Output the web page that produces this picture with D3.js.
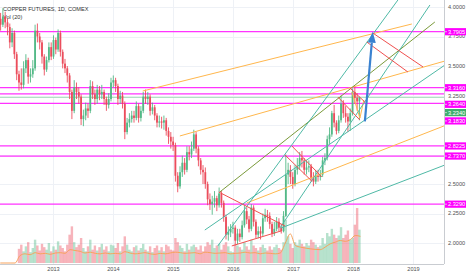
<!DOCTYPE html>
<html>
<head>
<meta charset="utf-8">
<script src="https://cdn.jsdelivr.net/npm/d3@7"></script>
<style>
  html, body { margin: 0; padding: 0; background: #fff; }
  svg { display: block; font-family: "Liberation Sans", Arial, sans-serif; }
</style>
</head>
<body>
<script>
/* global d3 */

// ---- data ----
let TITLE = 'COPPER FUTURES, 1D, COMEX'
let VOL_LABEL = 'Vol (20)'
let FIRST_BAR = '2012-02-03'   // bars are two weeks apart

let closes = [
  3.90, 3.85, 3.92, 3.87, 3.83, 3.70, 3.78, 3.60, 3.43, 3.36, 3.34, 3.48, 3.55, 3.41, 3.43, 3.48, 3.80, 3.75, 3.70, 3.58, 3.47, 3.55, 3.66, 3.58,
  3.72, 3.64, 3.78, 3.62, 3.52, 3.48, 3.42, 3.28, 3.12, 3.32, 3.28, 3.24, 3.05, 3.08, 3.14, 3.12, 3.33, 3.26, 3.22, 3.30, 3.26, 3.28, 3.22, 3.17, 3.22, 3.36,
  3.38, 3.33, 3.22, 3.25, 3.18, 2.94, 3.02, 3.05, 3.08, 3.06, 3.16, 3.06, 3.12, 3.24, 3.22, 3.24, 3.12, 3.15, 3.08, 3.02, 3.03, 3.02, 3.04, 2.95, 2.90, 2.86,
  2.83, 2.57, 2.48, 2.60, 2.68, 2.62, 2.77, 2.75, 2.80, 2.92, 2.80, 2.70, 2.62, 2.60, 2.50, 2.37, 2.33, 2.35, 2.38, 2.32, 2.42, 2.34, 2.22, 2.07, 2.09, 2.12,
  2.13, 2.02, 2.08, 2.05, 2.15, 2.27, 2.20, 2.12, 2.30, 2.18, 2.07, 2.10, 2.08, 2.21, 2.24, 2.23, 2.16, 2.08, 2.12, 2.18, 2.13, 2.10, 2.23, 2.58, 2.62, 2.56,
  2.50, 2.62, 2.65, 2.72, 2.70, 2.62, 2.64, 2.65, 2.55, 2.52, 2.57, 2.56, 2.58, 2.70, 2.72, 2.88, 2.92, 3.10, 3.02, 2.95, 3.04, 3.18, 3.10, 3.07, 3.03, 3.10, 3.28,
  3.23, 3.20, 3.234
]
let highs = [
  3.97, 3.95, 3.99, 3.96, 3.90, 3.86, 3.82, 3.80, 3.62, 3.46, 3.48, 3.54, 3.60, 3.57, 3.48, 3.55, 3.85, 3.86, 3.78, 3.72, 3.60, 3.58, 3.70, 3.70,
  3.76, 3.74, 3.81, 3.80, 3.64, 3.56, 3.50, 3.44, 3.30, 3.38, 3.36, 3.32, 3.26, 3.13, 3.19, 3.18, 3.38, 3.37, 3.30, 3.34, 3.33, 3.34, 3.30, 3.24, 3.27, 3.40,
  3.42, 3.40, 3.35, 3.29, 3.28, 3.20, 3.06, 3.10, 3.12, 3.12, 3.20, 3.18, 3.16, 3.28, 3.30, 3.28, 3.26, 3.19, 3.17, 3.10, 3.08, 3.07, 3.08, 3.06, 2.98, 2.94,
  2.90, 2.85, 2.60, 2.65, 2.74, 2.72, 2.82, 2.82, 2.86, 2.96, 2.94, 2.82, 2.72, 2.66, 2.64, 2.52, 2.42, 2.40, 2.44, 2.40, 2.47, 2.44, 2.36, 2.24, 2.14, 2.16,
  2.18, 2.15, 2.12, 2.12, 2.19, 2.32, 2.30, 2.23, 2.33, 2.32, 2.20, 2.14, 2.14, 2.25, 2.29, 2.28, 2.26, 2.18, 2.18, 2.22, 2.21, 2.16, 2.27, 2.75, 2.68, 2.66,
  2.60, 2.66, 2.72, 2.77, 2.78, 2.72, 2.70, 2.70, 2.67, 2.60, 2.62, 2.62, 2.62, 2.73, 2.76, 2.91, 2.98, 3.12, 3.17, 3.04, 3.08, 3.25, 3.21, 3.16, 3.10, 3.14, 3.31,
  3.33, 3.27, 3.24
]
let lows = [
  3.82, 3.80, 3.83, 3.82, 3.76, 3.65, 3.66, 3.56, 3.38, 3.29, 3.30, 3.31, 3.44, 3.35, 3.36, 3.40, 3.46, 3.70, 3.64, 3.52, 3.42, 3.45, 3.53, 3.55,
  3.56, 3.60, 3.62, 3.58, 3.48, 3.44, 3.36, 3.22, 3.05, 3.10, 3.22, 3.18, 3.00, 2.99, 3.04, 3.06, 3.10, 3.22, 3.17, 3.18, 3.21, 3.22, 3.17, 3.12, 3.14, 3.20,
  3.32, 3.28, 3.17, 3.18, 3.14, 2.88, 2.92, 2.98, 3.02, 3.02, 3.04, 3.02, 3.03, 3.10, 3.18, 3.17, 3.08, 3.09, 3.04, 2.98, 2.98, 2.97, 2.96, 2.91, 2.84, 2.80,
  2.78, 2.52, 2.43, 2.46, 2.56, 2.58, 2.60, 2.70, 2.72, 2.78, 2.76, 2.65, 2.58, 2.50, 2.46, 2.32, 2.28, 2.24, 2.30, 2.27, 2.30, 2.30, 2.18, 2.03, 2.02, 2.05,
  2.08, 1.98, 1.99, 2.01, 2.03, 2.13, 2.16, 2.09, 2.10, 2.14, 2.04, 2.04, 2.03, 2.06, 2.18, 2.18, 2.12, 2.05, 2.06, 2.10, 2.10, 2.08, 2.09, 2.22, 2.50, 2.50,
  2.46, 2.48, 2.58, 2.62, 2.64, 2.58, 2.58, 2.60, 2.52, 2.48, 2.50, 2.52, 2.53, 2.56, 2.66, 2.70, 2.84, 2.90, 2.98, 2.92, 2.93, 3.02, 3.06, 3.02, 2.94, 2.95, 3.08,
  3.18, 3.12, 3.04
]
let volumes = [
  0, 0, 0, 0, 0, 0, 0, 0, 0, 85, 110, 70, 100, 125, 65, 90, 140, 105, 75, 115, 95, 80, 120, 70,
  100, 80, 130, 105, 90, 70, 110, 170, 220, 125, 95, 110, 150, 90, 70, 100, 140, 80, 105, 75, 95, 115, 80, 100, 70, 110,
  105, 90, 120, 70, 100, 160, 110, 80, 70, 95, 105, 75, 90, 115, 80, 70, 100, 65, 90, 105, 75, 95, 70, 110, 100, 80,
  75, 150, 125, 105, 90, 70, 115, 80, 100, 110, 95, 80, 105, 70, 100, 125, 110, 140, 90, 105, 115, 80, 110, 125, 100, 70,
  65, 110, 105, 95, 80, 125, 100, 80, 140, 105, 90, 75, 95, 110, 90, 75, 100, 80, 95, 110, 90, 80, 125, 260, 160, 115,
  90, 125, 110, 140, 115, 100, 120, 105, 140, 125, 110, 95, 105, 150, 115, 180, 160, 205, 170, 150, 165, 215, 150, 170, 195, 140, 150,
  230, 330, 200
]
// Vol MA(20), one value per month from Feb 2012
let FIRST_MA_MONTH = '2012-02-15'
let volumeMA = [
  0, 0, 0, 0, 45, 55, 50, 62, 55, 58, 52,
  60, 62, 58, 80, 75, 70, 60, 65, 58, 55, 60, 55,
  58, 55, 68, 60, 55, 58, 62, 55, 52, 58, 55, 60,
  65, 62, 58, 60, 62, 55, 65, 62, 58, 60, 62, 55,
  58, 60, 65, 60, 62, 55, 60, 58, 55, 60, 120, 175,
  105, 95, 90, 85, 82, 80, 95, 115, 125, 135, 130, 140,
  165, 160
]

// horizontal levels and the last price
let levels = [3.7905, 3.3160, 3.2640, 3.1830, 2.8225, 2.7370, 2.3290]
let lastPrice = 3.2340
let priceTicks = [2.0, 2.25, 2.5, 2.75, 3.0, 3.25, 3.5, 3.75, 4.0]
let shownTickLabels = [2.0, 2.25, 2.5, 3.25, 3.5, 4.0]
let coveredTickLabels = [3.75]

// drawn trend lines: [[date, price], [date, price]]
let orangeLines = [
  [['2014-07-01', 3.288], ['2018-12-25', 3.856]],
  [['2015-02-12', 2.907], ['2019-07-14', 3.542]],
  [['2016-03-25', 2.339], ['2019-07-14', 2.995]],
  [['2017-12-25', 3.280], ['2018-02-12', 3.059]],
  [['2018-02-12', 3.059], ['2018-03-08', 3.212]]
]
let oliveLines = [
  [['2015-10-13', 2.432], ['2019-05-14', 3.873]]
]
let tealLines = [
  [['2015-10-01', 1.975], ['2018-10-01', 4.059]],
  [['2016-10-13', 2.127], ['2019-04-14', 4.017]],
  [['2015-07-14', 2.110], ['2019-07-14', 3.508]],
  [['2016-10-20', 2.127], ['2019-07-14', 2.661]]
]
let redLines = [
  [['2015-10-07', 2.432], ['2016-11-13', 2.144]],
  [['2015-12-25', 1.975], ['2016-10-20', 2.102]],
  [['2016-11-13', 2.746], ['2017-04-25', 2.525]],
  [['2016-12-25', 2.822], ['2017-06-25', 2.559]],
  [['2017-10-01', 3.237], ['2018-02-12', 3.042]],
  [['2017-12-13', 3.314], ['2018-03-14', 3.195]],
  [['2018-05-01', 3.780], ['2019-03-03', 3.492]],
  [['2018-03-26', 3.703], ['2018-12-01', 3.449]]
]
let targetArrow = [['2018-03-14', 3.03], ['2018-05-01', 3.79]]

// ---- layout ----
let W = 466
let H = 275
let plot = {left: 0, right: 444, top: 0, bottom: 264}
let COLORS = {
  up: '#53b987', down: '#eb4d5c', grid: '#eef1f6', axis: '#c9ccd1',
  text: '#4f4f4f', level: '#ff33ff', levelBox: '#ff00ff', last: '#3fae6d',
  lastLine: '#a8dcbc', orange: '#ffb74d', olive: '#7a9a3a', teal: '#4fb9a6',
  red: '#f0504f', blue: '#3a82d0', volMA: '#f7a35c'
}

let parseDate = d3.timeParse('%Y-%m-%d')
let firstBar = parseDate(FIRST_BAR)
let barDates = closes.map((c, i) => d3.timeDay.offset(firstBar, i * 14))
let maDates = volumeMA.map((v, i) => d3.timeMonth.offset(parseDate(FIRST_MA_MONTH), i))

let x = d3.scaleTime()
  .domain([new Date(2013, 0, 1), new Date(2019, 0, 1)])
  .range([53, 413])
let y = d3.scaleLinear().domain([2, 4]).range([243, 7])
let yVol = d3.scaleLinear().domain([0, 330]).range([263, 208])

let svg = d3.select('body').append('svg')
  .attr('width', W).attr('height', H)

svg.append('defs').append('clipPath').attr('id', 'plot-clip')
  .append('rect')
  .attr('x', plot.left).attr('y', plot.top)
  .attr('width', plot.right - plot.left).attr('height', plot.bottom - plot.top)

// grid
let grid = svg.append('g')
grid.selectAll('line.h').data(priceTicks).enter().append('line')
  .attr('x1', plot.left).attr('x2', plot.right)
  .attr('y1', d => Math.round(y(d)) + 0.5).attr('y2', d => Math.round(y(d)) + 0.5)
  .attr('stroke', COLORS.grid)
let yearTicks = x.ticks(d3.timeYear.every(1))
grid.selectAll('line.v').data(yearTicks).enter().append('line')
  .attr('x1', d => Math.round(x(d)) + 0.5).attr('x2', d => Math.round(x(d)) + 0.5)
  .attr('y1', plot.top).attr('y2', plot.bottom)
  .attr('stroke', COLORS.grid)

// title
svg.append('text').attr('x', 3).attr('y', 11)
  .attr('font-size', 5.6).attr('fill', '#333').text(TITLE)
svg.append('text').attr('x', 3).attr('y', 18.5)
  .attr('font-size', 5.6).attr('fill', '#333').text(VOL_LABEL)

let body = svg.append('g').attr('clip-path', 'url(#plot-clip)')

// volume bars
let bars = closes.map((c, i) => ({
  date: barDates[i], open: i ? closes[i - 1] : c, close: c,
  high: highs[i], low: lows[i], volume: volumes[i]
}))
body.append('g').selectAll('rect').data(bars.filter(d => d.volume > 0)).enter()
  .append('rect')
  .attr('x', d => x(d.date) - 1.2)
  .attr('width', 2.4)
  .attr('y', d => yVol(d.volume))
  .attr('height', d => yVol(0) - yVol(d.volume))
  .attr('fill', d => d.close >= d.open ? COLORS.up : COLORS.down)
  .attr('opacity', 0.42)
body.append('path')
  .datum(volumeMA.map((v, i) => ({date: maDates[i], v})))
  .attr('fill', 'none').attr('stroke', COLORS.volMA).attr('stroke-width', 1)
  .attr('d', d3.line().x(d => x(d.date)).y(d => yVol(d.v)).curve(d3.curveMonotoneX))

// horizontal levels
body.selectAll('line.level').data(levels).enter().append('line')
  .attr('x1', plot.left).attr('x2', plot.right)
  .attr('y1', d => y(d)).attr('y2', d => y(d))
  .attr('stroke', COLORS.level).attr('stroke-width', 1.3)
body.append('line')
  .attr('x1', plot.left).attr('x2', plot.right)
  .attr('y1', y(lastPrice)).attr('y2', y(lastPrice))
  .attr('stroke', COLORS.lastLine).attr('stroke-width', 1)

// candles
let candles = body.append('g').selectAll('g').data(bars).enter().append('g')
candles.append('line')
  .attr('x1', d => x(d.date)).attr('x2', d => x(d.date))
  .attr('y1', d => y(d.high)).attr('y2', d => y(d.low))
  .attr('stroke', d => d.close >= d.open ? COLORS.up : COLORS.down)
  .attr('stroke-width', 0.9)
candles.append('rect')
  .attr('x', d => x(d.date) - 0.9).attr('width', 1.8)
  .attr('y', d => y(Math.max(d.open, d.close)))
  .attr('height', d => Math.max(0.6, Math.abs(y(d.open) - y(d.close))))
  .attr('fill', d => d.close >= d.open ? COLORS.up : COLORS.down)

// drawings
function drawLines (data, color, width) {
  body.append('g').selectAll('line').data(data).enter().append('line')
    .attr('x1', d => x(parseDate(d[0][0]))).attr('y1', d => y(d[0][1]))
    .attr('x2', d => x(parseDate(d[1][0]))).attr('y2', d => y(d[1][1]))
    .attr('stroke', color).attr('stroke-width', width)
}
drawLines(orangeLines, COLORS.orange, 1)
drawLines(oliveLines, COLORS.olive, 1)
drawLines(tealLines, COLORS.teal, 1)
drawLines(redLines, COLORS.red, 1)

// arrow
let a0 = {x: x(parseDate(targetArrow[0][0])), y: y(targetArrow[0][1])}
let a1 = {x: x(parseDate(targetArrow[1][0])), y: y(targetArrow[1][1])}
let ang = Math.atan2(a1.y - a0.y, a1.x - a0.x)
let headLen = 11
let headW = 4
let base = {x: a1.x - headLen * Math.cos(ang), y: a1.y - headLen * Math.sin(ang)}
body.append('line')
  .attr('x1', a0.x).attr('y1', a0.y).attr('x2', base.x).attr('y2', base.y)
  .attr('stroke', COLORS.blue).attr('stroke-width', 2.2)
body.append('path')
  .attr('d', d3.line()([
    [a1.x, a1.y],
    [base.x + headW * Math.sin(ang), base.y - headW * Math.cos(ang)],
    [base.x - headW * Math.sin(ang), base.y + headW * Math.cos(ang)]
  ]) + 'Z')
  .attr('fill', COLORS.blue)

// axes frame
svg.append('line')
  .attr('x1', plot.right + 0.5).attr('x2', plot.right + 0.5)
  .attr('y1', 0).attr('y2', plot.bottom)
  .attr('stroke', COLORS.axis)
svg.append('line')
  .attr('x1', 0).attr('x2', plot.right)
  .attr('y1', plot.bottom + 0.5).attr('y2', plot.bottom + 0.5)
  .attr('stroke', COLORS.axis)

// time axis
let xAxis = d3.axisBottom(x).ticks(d3.timeYear.every(1))
  .tickFormat(d3.timeFormat('%Y')).tickSize(0).tickPadding(3)
let xg = svg.append('g').attr('transform', `translate(0, ${plot.bottom})`).call(xAxis)
xg.select('.domain').remove()
xg.selectAll('text').attr('font-size', 5.6).attr('fill', COLORS.text)
  .attr('font-family', '"Liberation Sans", Arial, sans-serif')

// price axis: stacked labels (ticks and boxes), pushed apart
let labelItems = [
  ...shownTickLabels.map(v => ({v, kind: 'tick', key: y(v) - 2})),
  ...levels.map(v => ({v, kind: 'level', key: y(v)})),
  {v: lastPrice, kind: 'last', key: y(lastPrice)}
].sort((a, b) => a.key - b.key)
let gap = 8.3
let prevY = -Infinity
for (let item of labelItems) {
  item.y = Math.max(y(item.v), prevY + gap)
  prevY = item.y
}
let fmt = d3.format('.4f')
let yAxisG = svg.append('g')
yAxisG.selectAll('text.cov').data(coveredTickLabels).enter().append('text')
  .attr('x', plot.right + 4).attr('y', d => y(d)).attr('dy', '0.35em')
  .attr('font-size', 5.6).attr('fill', COLORS.text).text(d => fmt(d))
let labels = yAxisG.selectAll('g').data(labelItems).enter().append('g')
  .attr('transform', d => `translate(${plot.right + 1}, ${d.y})`)
labels.filter(d => d.kind !== 'tick').append('rect')
  .attr('x', 0).attr('y', -3.6).attr('width', W - plot.right - 1).attr('height', 7.2)
  .attr('fill', d => d.kind === 'last' ? COLORS.last : COLORS.levelBox)
labels.filter(d => d.kind !== 'tick').append('line')
  .attr('x1', 0).attr('x2', 2).attr('y1', 0).attr('y2', 0)
  .attr('stroke', '#fff').attr('stroke-width', 0.6)
labels.append('text')
  .attr('x', 3).attr('dy', '0.35em')
  .attr('font-size', 5.6)
  .attr('fill', d => d.kind === 'tick' ? COLORS.text : '#fff')
  .text(d => fmt(d.v))
</script>
</body>
</html>
